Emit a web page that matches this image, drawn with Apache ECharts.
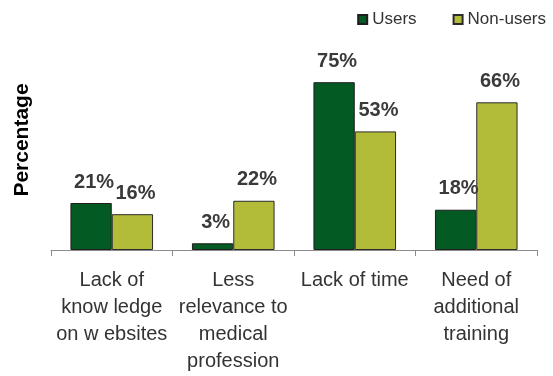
<!DOCTYPE html>
<html>
<head>
<meta charset="utf-8">
<script src="https://cdn.jsdelivr.net/npm/echarts@6/dist/echarts.min.js"></script>
<style>
  html, body { margin: 0; padding: 0; background: #fff; }
  #chart { width: 553px; height: 376px; }
</style>
</head>
<body>
<div id="chart"></div>
<script>
// Reasons for not using medical websites, by group
var categories = [
  'Lack of\nknow ledge\non w ebsites',
  'Less\nrelevance to\nmedical\nprofession',
  'Lack of time',
  'Need of\nadditional\ntraining'
];
var seriesNames = ['Users', 'Non-users'];
var usersValues = [21, 3, 75, 18];
var nonUsersValues = [16, 22, 53, 66];
var yAxisTitle = 'Percentage';

var FONT = '"Liberation Sans", Arial, Helvetica, sans-serif';
var chart = echarts.init(document.getElementById('chart'), null, { renderer: 'canvas' });

function barLabel() {
  return {
    show: true,
    position: 'top',
    distance: 11,
    offset: [3, 0],
    formatter: '{c}%',
    fontFamily: FONT,
    fontSize: 20,
    fontWeight: 'bold',
    color: '#3a3a3a'
  };
}

chart.setOption({
  animation: false,
  backgroundColor: '#ffffff',
  grid: { left: 51, right: 16, top: 71, bottom: 126, containLabel: false },
  legend: {
    data: seriesNames,
    right: 2,
    top: 6,
    itemWidth: 9,
    itemHeight: 9,
    itemGap: 36,
    icon: 'rect',
    textStyle: { fontFamily: FONT, fontSize: 17, color: '#333' }
  },
  // rotated axis title, placed to the left of the plot
  graphic: [{
    type: 'text',
    rotation: Math.PI / 2,
    x: 12,
    y: 140,
    style: {
      text: yAxisTitle,
      fontFamily: FONT,
      fontSize: 21,
      fontWeight: 'bold',
      fill: '#000',
      align: 'center',
      verticalAlign: 'top'
    }
  }],
  xAxis: {
    type: 'category',
    data: categories,
    axisLine: { show: true, lineStyle: { color: '#8c8c8c', width: 1 } },
    axisTick: { show: true, length: 6, lineStyle: { color: '#8c8c8c' } },
    axisLabel: {
      interval: 0,
      margin: 17,
      fontFamily: FONT,
      fontSize: 20,
      lineHeight: 27,
      color: '#333'
    }
  },
  yAxis: {
    type: 'value',
    min: 0,
    max: 80,
    axisLine: { show: false },
    axisTick: { show: false },
    axisLabel: { show: false },
    splitLine: { show: false }
  },
  series: [
    {
      name: seriesNames[0],
      type: 'bar',
      data: usersValues,
      barGap: '0%',
      barCategoryGap: '32%',
      itemStyle: { color: '#045a23', borderColor: '#1e1e1e', borderWidth: 1 },
      label: barLabel()
    },
    {
      name: seriesNames[1],
      type: 'bar',
      data: nonUsersValues,
      barGap: '0%',
      barCategoryGap: '32%',
      itemStyle: { color: '#b3bc38', borderColor: '#2a2a2a', borderWidth: 1 },
      label: barLabel()
    }
  ]
});
</script>
</body>
</html>
